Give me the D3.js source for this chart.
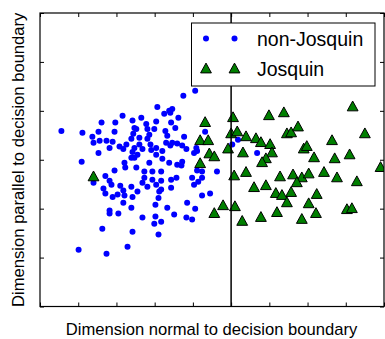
<!DOCTYPE html>
<html>
<head>
<meta charset="utf-8">
<script src="https://cdn.jsdelivr.net/npm/d3@7"></script>
<style>
  html, body { margin: 0; padding: 0; background: #fff; }
  svg { display: block; font-family: "Liberation Sans", Arial, sans-serif; }
</style>
</head>
<body>
<svg id="chart" width="385" height="339"></svg>
<script>
// ---- data (arbitrary projected units) ----
const nonJosquinX = [-4.44,-3.89,-3.39,-3.03,-2.84,-2.58,-3.47,-3.05,-3.63,-3.60,-3.44,-3.26,-3.10,-3.18,-2.92,-2.82,-2.74,-2.61,-2.56,-3.47,-3.91,-2.79,-2.77,-3.05,-3.29,-2.61,-2.53,
  -3.60,-3.18,-3.34,-3.13,-3.29,-3.10,-2.97,-2.90,-2.82,-2.79,-2.61,-2.58,-2.82,-2.61,-3.18,-3.18,-2.95,-3.37,-2.58,-2.71,-3.99,-3.26,
  -1.25,-0.94,-1.93,-1.62,-1.54,-1.59,-1.75,-1.38,-2.35,-2.48,-2.22,-1.96,-1.57,-2.19,-2.01,-1.72,-1.46,-2.14,-1.67,-1.23,-2.40,-2.19,
  -1.70,-1.54,-1.41,-1.28,-1.59,-2.40,-2.11,-2.53,-1.96,-1.80,-1.17,-0.91,-0.89,-0.97,-2.32,-2.09,-2.58,-2.45,-1.96,-2.53,-1.80,-1.62,
  -1.41,-1.28,-1.30,-2.48,-2.14,-2.27,-2.06,-1.83,-0.89,-0.37,-1.02,-2.27,-1.43,-1.57,-2.06,-1.83,-0.76,-0.86,-0.97,-2.32,-2.19,-1.96,
  -1.83,-2.45,-1.88,-1.57,-1.90,-0.76,-0.55,-1.98,-1.67,-1.15,-0.94,-1.49,-1.17,-1.02,-2.32,-1.98,-1.83,-2.01,-1.90,-0.68,0.03,0.18,0.68,-0.76];
const nonJosquinY = [0.59,0.55,0.76,0.76,0.90,0.80,0.57,0.57,0.47,0.35,0.39,0.39,0.37,0.24,0.27,0.22,0.31,0.43,0.53,0.14,-0.04,-0.06,-0.16,-0.22,-0.33,0.04,0.65,
  -0.47,-0.43,-0.59,-0.51,-0.69,-0.76,-0.71,-0.53,-0.63,-0.73,-0.55,-0.76,-0.88,-0.98,-1.04,-1.10,-1.10,-1.41,-1.47,-1.78,-1.84,-1.92,
  1.31,1.41,1.08,1.00,1.04,0.96,0.94,0.86,0.86,0.63,0.73,0.78,0.76,0.63,0.63,0.59,0.65,0.51,0.49,0.47,0.45,0.43,
  0.35,0.35,0.33,0.29,0.29,0.31,0.31,0.24,0.24,0.18,0.22,0.24,0.18,0.14,0.22,0.20,0.16,0.10,0.10,0.04,0.02,-0.06,
  -0.10,-0.04,-0.12,-0.16,-0.06,-0.24,-0.24,-0.24,-0.22,-0.24,-0.37,-0.37,-0.37,-0.41,-0.41,-0.43,-0.37,-0.45,-0.51,-0.47,-0.55,-0.51,
  -0.61,-0.65,-0.65,-0.57,-0.78,-0.73,-0.69,-0.92,-0.98,-0.88,-1.00,-1.12,-1.18,-1.22,-1.18,-1.16,-1.27,-1.31,-1.53,0.57,0.31,0.41,0.14,-0.24];

const josquinX = [-3.60,-0.68,-0.81,-0.60,-0.57,-0.44,-0.81,-0.44,0.05,0.99,1.38,3.18,0.00,0.16,0.39,0.65,0.78,1.02,1.46,1.57,1.75,
  -0.08,0.31,1.07,0.91,0.81,1.90,1.98,2.64,3.50,2.17,2.71,3.10,3.91,0.39,0.08,1.28,1.62,1.85,1.72,2.03,2.43,2.77,3.29,
  0.60,0.91,1.17,1.33,1.57,1.46,2.24,2.03,-0.21,0.10,0.29,0.78,1.20,1.85,2.22,3.03,3.16];
const josquinY = [-0.33,0.78,0.41,0.41,0.14,0.08,-0.06,-1.08,0.88,0.92,0.98,1.10,0.55,0.59,0.49,0.45,0.37,0.33,0.55,0.57,0.69,
  0.24,0.16,0.16,0.04,-0.04,0.24,0.29,0.41,0.55,0.06,0.04,0.12,-0.14,-0.24,-0.31,-0.33,-0.29,-0.35,-0.45,-0.27,-0.24,-0.35,-0.43,
  -0.55,-0.51,-0.67,-0.71,-0.65,-0.86,-0.69,-0.88,-0.92,-0.94,-1.24,-1.16,-1.06,-1.20,-1.08,-1.00,-0.98];

const xDomain = [-5, 4];
const yDomain = [-3, 3];
const xTicks = [-5,-4,-3,-2,-1,0,1,2,3,4];
const yTicks = [-3,-2,-1,0,1,2,3];
const boundaryX = 0;
const xLabel = "Dimension normal to decision boundary";
const yLabel = "Dimension parallel to decision boundary";
const legendLabels = ["non-Josquin", "Josquin"];

// ---- layout ----
const svg = d3.select("#chart");
const m = {left: 40, top: 13, right: 384, bottom: 306.5};
const x = d3.scaleLinear().domain(xDomain).range([m.left, m.right]);
const y = d3.scaleLinear().domain(yDomain).range([m.bottom, m.top]);

svg.append("defs").append("clipPath").attr("id", "clip")
  .append("rect").attr("x", m.left).attr("y", m.top)
  .attr("width", m.right - m.left).attr("height", m.bottom - m.top);

const blue = "#0000ff", green = "#007f00";
function triPath(cx, cy) {
  const hw = 5.4, hh = 4.9;
  return `M${cx},${cy-hh}L${cx+hw},${cy+hh}L${cx-hw},${cy+hh}Z`;
}

const plot = svg.append("g").attr("clip-path", "url(#clip)");
plot.selectAll("circle.nj").data(d3.range(nonJosquinX.length)).join("circle")
  .attr("class", "nj")
  .attr("cx", i => x(nonJosquinX[i])).attr("cy", i => y(nonJosquinY[i]))
  .attr("r", 3).attr("fill", blue);
plot.selectAll("path.j").data(d3.range(josquinX.length)).join("path")
  .attr("class", "j")
  .attr("d", i => triPath(x(josquinX[i]), y(josquinY[i])))
  .attr("fill", green).attr("stroke", "#000").attr("stroke-width", 1);

// boundary line
svg.append("line").attr("x1", x(boundaryX)).attr("x2", x(boundaryX))
  .attr("y1", m.top).attr("y2", m.bottom)
  .attr("stroke", "#000").attr("stroke-width", 1.5);

// axes: inward ticks, no labels, on all sides
const tl = 4;
const axB = d3.axisBottom(x).tickValues(xTicks).tickSizeInner(-tl).tickSizeOuter(0).tickFormat("");
const axT = d3.axisTop(x).tickValues(xTicks).tickSizeInner(-tl).tickSizeOuter(0).tickFormat("");
const axL = d3.axisLeft(y).tickValues(yTicks).tickSizeInner(-tl).tickSizeOuter(0).tickFormat("");
const axR = d3.axisRight(y).tickValues(yTicks).tickSizeInner(-tl).tickSizeOuter(0).tickFormat("");
[[axB, `translate(0,${m.bottom})`], [axT, `translate(0,${m.top})`],
 [axL, `translate(${m.left},0)`], [axR, `translate(${m.right},0)`]].forEach(([ax, t]) => {
  const g = svg.append("g").attr("transform", t).call(ax);
  g.select(".domain").remove();
  g.selectAll("line").attr("stroke", "#000").attr("stroke-width", 1);
});
svg.append("rect").attr("x", m.left).attr("y", m.top)
  .attr("width", m.right - m.left).attr("height", m.bottom - m.top)
  .attr("fill", "none").attr("stroke", "#000").attr("stroke-width", 1.2);

// legend
const lg = svg.append("g");
lg.append("rect").attr("x", 191.5).attr("y", 23).attr("width", 183.5).attr("height", 63)
  .attr("fill", "#fff").attr("stroke", "#000").attr("stroke-width", 1);
[206, 234.5].forEach(cx => {
  lg.append("circle").attr("cx", cx).attr("cy", 38.5).attr("r", 3).attr("fill", blue);
  lg.append("path").attr("d", triPath(cx, 68)).attr("fill", green)
    .attr("stroke", "#000").attr("stroke-width", 1);
});
lg.selectAll("text").data(legendLabels).join("text")
  .attr("x", 257).attr("y", (d, i) => 45.5 + i * 30)
  .attr("font-size", 19.5).attr("fill", "#000").text(d => d);

// axis labels
svg.append("text").attr("x", 211.5).attr("y", 335)
  .attr("text-anchor", "middle").attr("font-size", 16.6).text(xLabel);
svg.append("text").attr("transform", `translate(23.5,${(m.top + m.bottom) / 2}) rotate(-90)`)
  .attr("text-anchor", "middle").attr("font-size", 16.6).text(yLabel);
</script>
</body>
</html>
